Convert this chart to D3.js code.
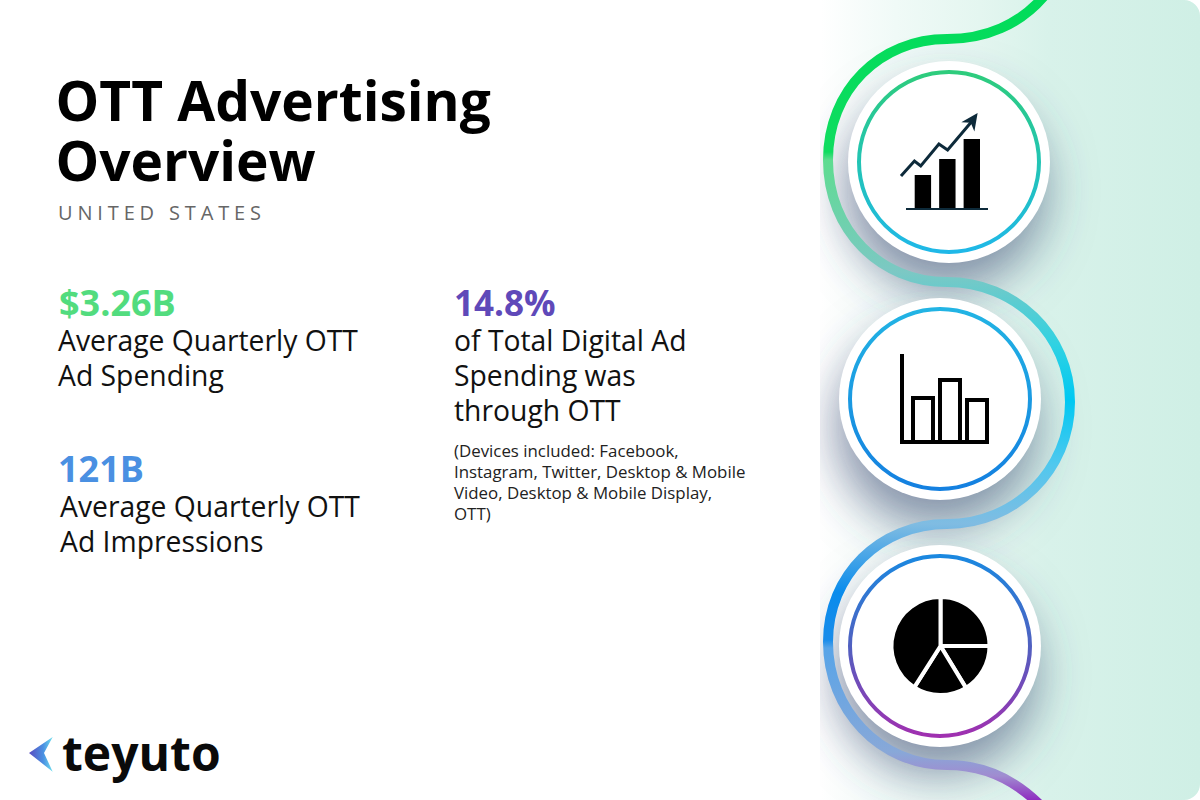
<!DOCTYPE html>
<html><head><meta charset="utf-8">
<style>html,body{margin:0;padding:0;background:#fff}svg{display:block}text{font-family:"Open Sans",sans-serif}</style>
<script src="https://cdn.jsdelivr.net/npm/d3@7"></script></head>
<body><svg id="c" width="1200" height="800"></svg>
<script>
const titleLines=["OTT Advertising","Overview"];
const subtitle="UNITED STATES";
const statValues=["$3.26B","121B","14.8%"];
const statColors=["#52dc7e","#4a90e2","#5f49b9"];
const statLabels=[["Average Quarterly OTT","Ad Spending"],["Average Quarterly OTT","Ad Impressions"],["of Total Digital Ad","Spending was","through OTT"]];
const noteLines=["(Devices included: Facebook,","Instagram, Twitter, Desktop & Mobile","Video, Desktop & Mobile Display,","OTT)"];
const brand="teyuto";
const growthBars=[33,49,69];
const growthLine=[[0,32],[17,47],[25,42],[48,64],[59,58],[89,86],[97,95]];
const columnBars=[44,62,42];
const pieValues=[25,16.3,17.7,41];

const svg=d3.select("#c"),defs=svg.append("defs");
function grad(id,stops,x1,y1,x2,y2,user){
  const g=defs.append("linearGradient").attr("id",id).attr("x1",x1).attr("y1",y1).attr("x2",x2).attr("y2",y2);
  if(user)g.attr("gradientUnits","userSpaceOnUse");
  stops.forEach(s=>g.append("stop").attr("offset",s[0]).attr("stop-color",s[1]));
}
grad("bg",[[0,"#ffffff"],[.2,"#f0faf7"],[.42,"#e4f6f0"],[.6,"#d8f2ea"],[1,"#cfefe5"]],"0","0","1","0");
grad("wire",[[0,"#00dc5a"],[.19,"#10dc60"],[.2,"#5edc90"],[.34,"#7cc8c4"],[.43,"#30d2e2"],[.5,"#00c8f2"],[.58,"#50c8ee"],[.655,"#80bce2"],[.74,"#0a8cec"],[.8,"#1a8cea"],[.81,"#58a4e8"],[.94,"#88a8d8"],[.97,"#a08cd0"],[1,"#8e2cc0"]],0,0,0,800,true);
grad("ring1",[[0,"#2ecc7c"],[.5,"#22c4b4"],[1,"#1fb8e8"]],"0","0","0","1");
grad("ring2",[[0,"#22b4e4"],[1,"#1480e0"]],"0","0","0","1");
grad("ring3",[[0,"#1a88e0"],[.5,"#5060c0"],[1,"#a030b0"]],"0","0","0","1");
grad("logo",[[0,"#5a4cc0"],[.6,"#4a90e2"],[1,"#70e0ee"]],"0","0","1","0");
const f=defs.append("filter").attr("id","sh").attr("x","-60%").attr("y","-60%").attr("width","220%").attr("height","220%");
f.append("feDropShadow").attr("dx",-4).attr("dy",28).attr("stdDeviation",24).attr("flood-color","#3c4c74").attr("flood-opacity",.6);
defs.append("clipPath").attr("id","panel").append("rect").attr("x",820).attr("y",0).attr("width",380).attr("height",800);

svg.append("rect").attr("x",820).attr("y",-20).attr("width",380).attr("height",840).attr("fill","url(#bg)");
const corner=(x,y,sx,sy)=>svg.append("path").attr("fill","#fff").attr("d",`M${x},${y}h${sx*16}a16,16 0 0 ${sx*sy>0?0:1} ${-sx*16},${sy*16}z`);
corner(1200,0,-1,1);corner(1200,800,-1,-1);

const discs=[{cx:949,cy:162,ring:"ring1"},{cx:940,cy:399,ring:"ring2"},{cx:940,cy:646,ring:"ring3"}];
svg.append("g").attr("clip-path","url(#panel)").selectAll(".shadow").data(discs).join("circle").attr("class","shadow").attr("cx",d=>d.cx).attr("cy",d=>d.cy).attr("r",100).attr("fill","#fff").attr("filter","url(#sh)");
svg.append("path").attr("fill","none").attr("stroke","url(#wire)").attr("stroke-width",10)
 .attr("d","M1045,-5C1020,25 985,39 947,39C880,39 828,90 828,160C828,230 880,282 947,282C1015,282 1070,335 1070,402C1070,470 1015,524 947,524C880,524 828,575 828,642C828,710 880,765 947,765C985,765 1015,780 1040,805");
svg.selectAll(".disc").data(discs).join("circle").attr("class","disc").attr("cx",d=>d.cx).attr("cy",d=>d.cy).attr("r",101).attr("fill","#fff");
svg.selectAll(".ring").data(discs).join("circle").attr("class","ring").attr("cx",d=>d.cx).attr("cy",d=>d.cy).attr("r",90).attr("fill","none").attr("stroke-width",4).attr("stroke",d=>`url(#${d.ring})`);

const gx=d3.scaleBand().domain(growthBars.map((_,i)=>i)).range([914.7,980]).paddingInner(.33).paddingOuter(0);
const gy=d3.scaleLinear().domain([0,100]).range([208,108]);
svg.selectAll(".gb").data(growthBars).join("rect").attr("class","gb").attr("x",(d,i)=>gx(i)).attr("width",gx.bandwidth()).attr("y",d=>gy(d)).attr("height",d=>gy(0)-gy(d)).attr("fill","#000");
svg.append("line").attr("x1",906).attr("x2",988).attr("y1",209).attr("y2",209).attr("stroke","#0d2a3a").attr("stroke-width",2);
const lx=d3.scaleLinear().domain([0,100]).range([901,980]);
const pts=growthLine.slice(0,-1);
svg.append("path").attr("fill","none").attr("stroke","#0d2a3a").attr("stroke-width",3).attr("d",d3.line().x(d=>lx(d[0])).y(d=>gy(d[1]))(pts));
const a=growthLine[growthLine.length-1],b=growthLine[growthLine.length-2];
const tx=lx(a[0]),ty=gy(a[1]),bx=lx(b[0]),by=gy(b[1]);
const ang=Math.atan2(ty-by,tx-bx)*180/Math.PI;
svg.append("path").attr("fill","#0d2a3a").attr("transform",`translate(${tx},${ty}) rotate(${ang})`).attr("d",d3.line()([[0,0],[-17,-8],[-12,0],[-17,8]])+"Z");

const cx=d3.scaleBand().domain(columnBars.map((_,i)=>i)).range([913,987]).paddingInner(.26).paddingOuter(0);
const cy=d3.scaleLinear().domain([0,100]).range([442,342]);
svg.selectAll(".cb").data(columnBars).join("rect").attr("class","cb").attr("x",(d,i)=>cx(i)).attr("width",cx.bandwidth()).attr("y",d=>cy(d)).attr("height",d=>cy(0)-cy(d)).attr("fill","none").attr("stroke","#000").attr("stroke-width",4);
svg.append("path").attr("fill","none").attr("stroke","#000").attr("stroke-width",4).attr("d",d3.line()([[902,354],[902,442],[988,442]]));

const pie=d3.pie().sort(null)(pieValues);
svg.append("g").attr("transform","translate(940.5,646)").selectAll("path").data(pie).join("path").attr("d",d3.arc().innerRadius(0).outerRadius(49)).attr("fill","#000").attr("stroke","#fff").attr("stroke-width",4);

const txt=(s,x,y,size,fill,weight,ls)=>svg.append("text").attr("x",x).attr("y",y).attr("font-size",size).attr("fill",fill).attr("font-weight",weight||400).attr("letter-spacing",ls||0).text(s);
titleLines.forEach((t,i)=>txt(t,55.5,121+i*60,55,"#000",700));
txt(subtitle,58,220,20,"#666",400,4.85);
const layout=[{x:59,lx:58,vy:316,ly:351,dy:35},{x:58,lx:60,vy:482,ly:517,dy:34.5},{x:454,lx:454,vy:316,ly:351,dy:35}];
statValues.forEach((v,i)=>{
  const L=layout[i];
  txt(v,L.x,L.vy,i==2?35:36,statColors[i],700);
  statLabels[i].forEach((t,j)=>txt(t,L.lx,L.ly+j*L.dy,28.3,"#111"));
});
noteLines.forEach((t,i)=>txt(t,454,457+i*21,16.85,"#222"));
svg.append("path").attr("fill","url(#logo)").attr("d",d3.line()([[29,753],[52.7,737],[44,753],[52.7,771.7]])+"Z");
txt(brand,62,771,48,"#0a0a0a",700);
</script></body></html>
